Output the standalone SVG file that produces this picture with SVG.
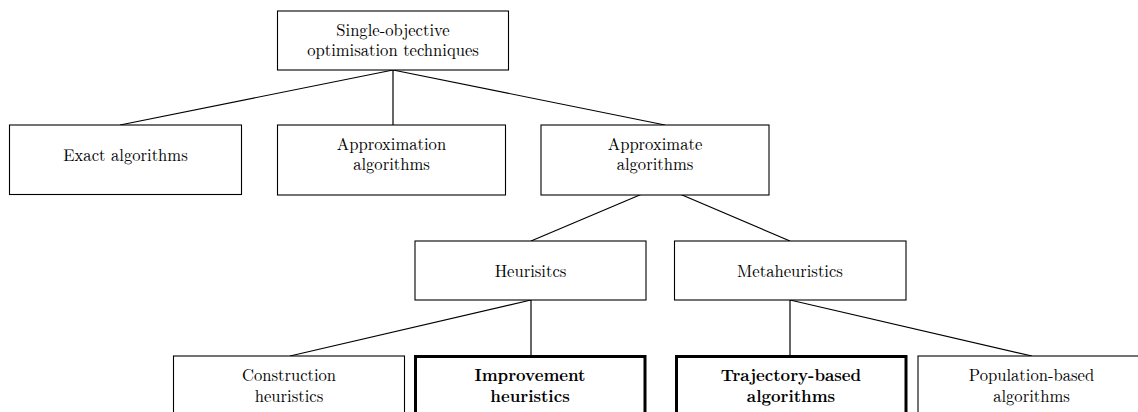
<svg xmlns="http://www.w3.org/2000/svg" width="1138" height="412" viewBox="0 0 1138 412">
  <style>
    .box { fill: #ffffff; stroke: #000000; stroke-width: 1.1; }
    .strong { fill: #ffffff; stroke: #000000; stroke-width: 3; }
    .lbl { font-size: 16.6px; fill: #000000; text-anchor: middle; }
    .b { font-weight: bold; }
    .edge { stroke: #000000; stroke-width: 1.2; fill: none; }
  </style>
  <rect width="1138" height="412" fill="#ffffff"/>

  <!-- tree edges -->
  <g id="connectors">
    <line class="edge" x1="393" y1="70" x2="120" y2="125"/>
    <line class="edge" x1="393" y1="70" x2="393" y2="125"/>
    <line class="edge" x1="393" y1="70" x2="665" y2="125"/>
    <line class="edge" x1="661" y1="186" x2="531" y2="241"/>
    <line class="edge" x1="661" y1="186" x2="790" y2="241"/>
    <line class="edge" x1="531" y1="300" x2="290" y2="356"/>
    <line class="edge" x1="531" y1="300" x2="531" y2="356"/>
    <line class="edge" x1="790" y1="300" x2="790" y2="356"/>
    <line class="edge" x1="790" y1="300" x2="1032" y2="356"/>
  </g>

  <g font-family="'Latin Modern Roman', 'CMU Serif', 'Liberation Serif', 'DejaVu Serif', 'Noto Serif', 'Times New Roman', serif">
  <g id="root">
    <rect class="box" x="277.5" y="11" width="231" height="59"/>
    <text class="lbl" x="393" y="35.5">Single-objective</text>
    <text class="lbl" x="393" y="55.5">optimisation techniques</text>
  </g>

  <g id="exact">
    <rect class="box" x="9.5" y="125" width="232" height="69.5"/>
    <text class="lbl" x="125.5" y="160.5">Exact algorithms</text>
  </g>

  <g id="approximation">
    <rect class="box" x="277.5" y="125" width="228" height="70"/>
    <text class="lbl" x="391.5" y="150">Approximation</text>
    <text class="lbl" x="391.5" y="170">algorithms</text>
  </g>

  <g id="approximate">
    <rect class="box" x="541" y="125" width="228" height="70"/>
    <text class="lbl" x="655" y="150">Approximate</text>
    <text class="lbl" x="655" y="170">algorithms</text>
  </g>

  <g id="heuristics">
    <rect class="box" x="415" y="241" width="231" height="59"/>
    <text class="lbl" x="530.5" y="276.5">Heurisitcs</text>
  </g>

  <g id="metaheuristics">
    <rect class="box" x="674.5" y="241" width="231.5" height="59"/>
    <text class="lbl" x="790" y="276.5">Metaheuristics</text>
  </g>

  <g id="construction">
    <rect class="box" x="173.5" y="356" width="231" height="70"/>
    <text class="lbl" x="289" y="381">Construction</text>
    <text class="lbl" x="289" y="401.5">heuristics</text>
  </g>

  <g id="improvement">
    <rect class="strong" x="415.5" y="356.5" width="229.5" height="70"/>
    <text class="lbl b" x="530" y="381">Improvement</text>
    <text class="lbl b" x="530" y="401.5">heuristics</text>
  </g>

  <g id="trajectory">
    <rect class="strong" x="676.5" y="356.5" width="229.5" height="70"/>
    <text class="lbl b" x="791" y="381">Trajectory-based</text>
    <text class="lbl b" x="791" y="401.5">algorithms</text>
  </g>

  <g id="population">
    <rect class="box" x="918" y="356" width="231" height="70"/>
    <text class="lbl" x="1031.5" y="381">Population-based</text>
    <text class="lbl" x="1031.5" y="401.5">algorithms</text>
  </g>
  </g>
</svg>
